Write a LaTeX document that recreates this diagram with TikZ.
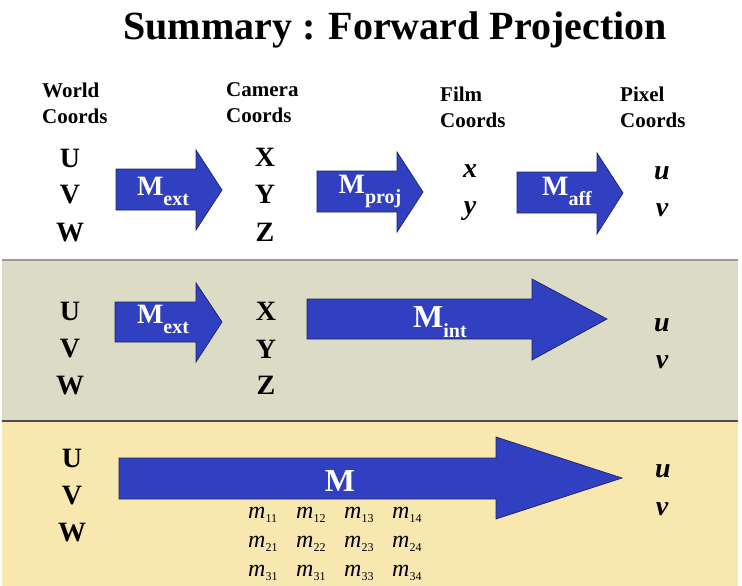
\documentclass[tikz,border=0pt]{standalone}
\usepackage{fontspec}
\setmainfont{Liberation Serif}
\definecolor{beige}{HTML}{DCDBC5}
\definecolor{yel}{HTML}{F8E8B0}
\definecolor{arrowblue}{HTML}{3040C0}
\definecolor{arrowedge}{HTML}{1E2460}
\tikzset{
  fatarrow/.style={fill=arrowblue, draw=arrowedge, line width=0.7pt, line join=miter},
  big/.style={font=\fontsize{28}{28}\selectfont\bfseries, inner sep=0pt, anchor=base},
  bigit/.style={font=\fontsize{28}{28}\selectfont\bfseries\itshape, inner sep=0pt, anchor=base},
  hdr/.style={font=\fontsize{21}{21}\selectfont\bfseries, inner sep=0pt, anchor=base west},
  mlab/.style={text=white, font=\fontsize{28}{28}\selectfont\bfseries, inner sep=0pt, anchor=base},
  mlabbig/.style={text=white, font=\fontsize{32}{32}\selectfont\bfseries, inner sep=0pt, anchor=base},
  ment/.style={font=\fontsize{24}{24}\selectfont\itshape, inner sep=0pt, anchor=base west},
}
\newcommand\subs[1]{\raisebox{-10pt}{\fontsize{20}{20}\selectfont #1}}
\newcommand\msub[2]{#1\raisebox{-4pt}{\fontsize{12}{12}\selectfont\upshape #2}}
% x0, body top, body bottom, head base x, head top, head bottom, tip x, tip y
\newcommand\fatarr[8]{\draw[fatarrow] (#1,#2) -- (#4,#2) -- (#4,#5) -- (#7,#8) -- (#4,#6) -- (#4,#3) -- (#1,#3) -- cycle;}
\begin{document}
\begin{tikzpicture}[x=1pt,y=-1pt]
\useasboundingbox (0,0) rectangle (742,586);
\fill[white] (0,0) rectangle (742,586);
% bands
\fill[beige] (2,260) rectangle (738,421);
\fill[yel] (2,421) rectangle (738,586);
\draw[gray!80, line width=1.5pt] (2,260) -- (738,260);
\draw[black!70, line width=1.5pt] (2,421) -- (738,421);
% title
\node[font=\fontsize{40}{40}\selectfont\bfseries, inner sep=0pt, anchor=base] (title) at (395,40) {Summary : Forward Projection};
% headers
\node[hdr] (h1a) at (42,97) {World};
\node[hdr] (h1b) at (42,123) {Coords};
\node[hdr] (h2a) at (226,96) {Camera};
\node[hdr] (h2b) at (226,122) {Coords};
\node[hdr] (h3a) at (440,101) {Film};
\node[hdr] (h3b) at (440,127) {Coords};
\node[hdr] (h4a) at (620,102) {Pixel};
\node[hdr] (h4b) at (620,128) {Coords};
% row 1
\node[big] (r1u) at (70,167) {U};
\node[big] (r1v) at (70,203) {V};
\node[big] (r1w) at (70,241) {W};
\node[big] (r1x) at (265,166) {X};
\node[big] (r1y) at (265,203) {Y};
\node[big] (r1z) at (265,241) {Z};
\node[bigit] (r1fx) at (470,177) {x};
\node[bigit] (r1fy) at (470,214) {y};
\node[bigit] (r1pu) at (662,179) {u};
\node[bigit] (r1pv) at (662,216) {v};
\fatarr{116}{169}{210}{196}{150}{230}{222}{190}
\fatarr{317}{171}{212}{397}{152}{232}{423}{192}
\fatarr{517}{172}{213}{597}{153}{234}{623}{193}
\node[mlab] (mext1) at (163,195) {M\subs{ext}};
\node[mlab] (mproj) at (370,193) {M\subs{proj}};
\node[mlab] (maff) at (567,195) {M\subs{aff}};
% row 2
\node[big] (r2u) at (70,320) {U};
\node[big] (r2v) at (70,357) {V};
\node[big] (r2w) at (70,394) {W};
\node[big] (r2x) at (266,320) {X};
\node[big] (r2y) at (266,358) {Y};
\node[big] (r2z) at (266,394) {Z};
\node[bigit] (r2pu) at (662,331) {u};
\node[bigit] (r2pv) at (662,368) {v};
\fatarr{115}{302}{342}{196}{283}{362}{222}{322}
\fatarr{307}{299}{339}{532}{279}{360}{607}{319}
\node[mlab] (mext2) at (163,323) {M\subs{ext}};
\node[mlabbig] (mint) at (440,327) {M\subs{int}};
% row 3
\node[big] (r3u) at (72,467) {U};
\node[big] (r3v) at (72,504) {V};
\node[big] (r3w) at (72,541) {W};
\node[bigit] (r3pu) at (663,477) {u};
\node[bigit] (r3pv) at (662,515) {v};
\fatarr{119}{458}{499}{496}{437}{519}{622}{478}
\node[mlabbig] (mall) at (340,491) {M};
% matrix entries
\node[ment] (m11) at (248,518) {\msub{m}{11}};
\node[ment] (m12) at (296,518) {\msub{m}{12}};
\node[ment] (m13) at (344,518) {\msub{m}{13}};
\node[ment] (m14) at (392,518) {\msub{m}{14}};
\node[ment] (m21) at (248,547) {\msub{m}{21}};
\node[ment] (m22) at (296,547) {\msub{m}{22}};
\node[ment] (m23) at (344,547) {\msub{m}{23}};
\node[ment] (m24) at (392,547) {\msub{m}{24}};
\node[ment] (m31) at (248,576) {\msub{m}{31}};
\node[ment] (m32) at (296,576) {\msub{m}{31}};
\node[ment] (m33) at (344,576) {\msub{m}{33}};
\node[ment] (m34) at (392,576) {\msub{m}{34}};
\end{tikzpicture}
\end{document}
